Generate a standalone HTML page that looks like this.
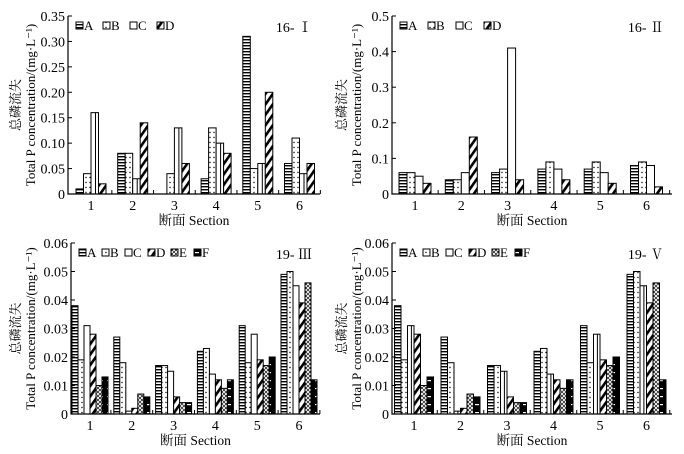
<!DOCTYPE html>
<html><head><meta charset="utf-8"><style>
body{margin:0;background:#fff}
svg{display:block;font-family:"Liberation Serif","Noto Serif CJK SC",serif}
</style></head><body>
<svg id="s" width="684" height="454" xmlns="http://www.w3.org/2000/svg">
<defs>
<pattern id="pA" width="4" height="3" patternUnits="userSpaceOnUse"><rect width="4" height="3" fill="#fff"/><rect y="0" width="4" height="1.4" fill="#000"/></pattern>
<pattern id="pB" width="4" height="5" patternUnits="userSpaceOnUse"><rect width="4" height="5" fill="#fff"/><circle cx="2" cy="2.5" r="0.7" fill="#000"/></pattern>
<pattern id="pC" width="8" height="8" patternUnits="userSpaceOnUse"><rect width="8" height="8" fill="#fff"/></pattern>
<pattern id="pD" width="6" height="6" patternUnits="userSpaceOnUse" patternTransform="rotate(35)"><rect width="6" height="6" fill="#fff"/><rect width="2.6" height="6" fill="#000"/></pattern>
<pattern id="pE" width="4" height="4" patternUnits="userSpaceOnUse"><rect width="4" height="4" fill="#222"/><path d="M0 0L4 4M4 0L0 4" stroke="#fff" stroke-width="0.9"/></pattern>
<pattern id="pF" width="8" height="8" patternUnits="userSpaceOnUse"><rect width="8" height="8" fill="#000"/><rect x="3" y="4" width="4" height="1.2" fill="#fff"/></pattern>
</defs>
</svg>
<script>
const sections=["1","2","3","4","5","6"];
const p1A=[0.01,0.08,0,0.03,0.31,0.06];
const p1B=[0.04,0.08,0.04,0.13,0.05,0.11];
const p1C=[0.16,0.03,0.13,0.10,0.06,0.04];
const p1D=[0.02,0.14,0.06,0.08,0.20,0.06];
const p2A=[0.06,0.04,0.06,0.07,0.07,0.08];
const p2B=[0.06,0.04,0.07,0.09,0.09,0.09];
const p2C=[0.05,0.06,0.41,0.07,0.06,0.08];
const p2D=[0.03,0.16,0.04,0.04,0.03,0.02];
const p3A=[0.038,0.027,0.017,0.022,0.031,0.049];
const p3B=[0.019,0.018,0.017,0.023,0.018,0.050];
const p3C=[0.031,0.001,0.015,0.014,0.028,0.045];
const p3D=[0.028,0.002,0.006,0.012,0.019,0.039];
const p3E=[0.010,0.007,0.004,0.009,0.017,0.046];
const p3F=[0.013,0.006,0.004,0.012,0.020,0.012];
const ticks1=["0","0.05","0.10","0.15","0.20","0.25","0.30","0.35"];
const ticks2=["0","0.1","0.2","0.3","0.4","0.5"];
const ticks3=["0","0.01","0.02","0.03","0.04","0.05","0.06"];
const seriesNames4=["A","B","C","D"];
const seriesNames6=["A","B","C","D","E","F"];

const NS="http://www.w3.org/2000/svg";
const svg=document.getElementById('s');
function mk(tag,attrs,parent){const e=document.createElementNS(NS,tag);for(const k in attrs)e.setAttribute(k,attrs[k]);(parent||svg).appendChild(e);return e;}

function panel(cfg){
  const g=mk('g',{});
  
  
  const {x0,x1,yTop,yBot,ticks,max,series,names,bw,c0,step,title}=cfg;
  const y=v=>yBot-(v/max)*(yBot-yTop);
  const xc=i=>c0+i*step;
  const n=series.length;
  series.forEach((arr,si)=>{
    arr.forEach((v,i)=>{
      if(v<=0)return;
      const bx=xc(i)-n*bw/2+si*bw;
      const r=mk('rect',{x:bx,y:y(v),width:bw,height:yBot-y(v),fill:'url(#p'+names[si]+')',stroke:'#000','stroke-width':1},g);
      
      
      if(names[si]==='C'&&cfg.cline){mk('line',{x1:bx+bw*0.6,x2:bx+bw*0.6,y1:y(v),y2:yBot,stroke:'#000','stroke-width':1},g);}
    });
  });
  const ax=mk('path',{d:`M${x0} ${yTop}V${yBot}H${x1}`,fill:'none',stroke:'#000','stroke-width':1.2},g);
  
  
  ticks.forEach((t,i)=>{
    const v=i*max/(ticks.length-1);
    mk('line',{x1:x0,x2:x0+4,y1:y(v),y2:y(v),stroke:'#000'},g);
    const tx=mk('text',{x:x0-3,y:y(v)+5,'text-anchor':'end','font-size':14},g);
    tx.textContent=t;
    
    
  });
  sections.forEach((s,i)=>{
    mk('line',{x1:xc(i)+step/2,x2:xc(i)+step/2,y1:yBot,y2:yBot-4,stroke:'#000'},g);
    const tx=mk('text',{x:xc(i),y:yBot+16,'text-anchor':'middle','font-size':14},g);
    tx.textContent=s;
    
    
  });
  const xl=mk('text',{x:(x0+x1)/2,y:yBot+31,'text-anchor':'middle','font-size':13.5},g);
  xl.textContent='断面 Section';
  
  
  const ym=(yTop+yBot)/2;
  const yl=mk('text',{transform:`translate(${cfg.ylx},${ym}) rotate(-90)`,'text-anchor':'middle','font-size':13},g);
  yl.textContent='总磷流失';
  
  
  const yl2=mk('text',{transform:`translate(${cfg.ylx+15},${ym}) rotate(-90)`,'text-anchor':'middle','font-size':13},g);
  yl2.textContent='Total P concentration/(mg·L⁻¹)';
  
  
  const tt=mk('text',{x:x1-8,y:yTop+16,'text-anchor':'end','font-size':14},g);
  tt.textContent=title;
  
  
  let lx=x0+8;
  names.forEach(nm=>{
    const lg=mk('g',{},g);
    
    
    mk('rect',{x:lx,y:yTop+6,width:7,height:7,fill:'url(#p'+nm+')',stroke:'#000'},lg);
    const t=mk('text',{x:lx+8,y:yTop+14,'font-size':13},lg);
    t.textContent=nm;
    lx+=cfg.legStep;
  });
}
panel({name:'panel-16-I',x0:68,x1:320,yTop:16,yBot:194,ticks:ticks1,max:0.35,series:[p1A,p1B,p1C,p1D],names:seriesNames4,bw:7.5,c0:91,step:41.7,title:'16- Ⅰ',ylx:20,legStep:27,cline:true});
panel({name:'panel-16-II',x0:392,x1:672,yTop:16,yBot:194,ticks:ticks2,max:0.5,series:[p2A,p2B,p2C,p2D],names:seriesNames4,bw:8,c0:415,step:46.3,title:'16- Ⅱ',ylx:346,legStep:28,cline:false});
panel({name:'panel-19-III',x0:71,x1:320,yTop:243,yBot:414,ticks:ticks3,max:0.06,series:[p3A,p3B,p3C,p3D,p3E,p3F],names:seriesNames6,bw:6,c0:90,step:41.8,title:'19- Ⅲ',ylx:20,legStep:23,cline:false});
panel({name:'panel-19-V',x0:392,x1:672,yTop:243,yBot:414,ticks:ticks3,max:0.06,series:[p3A,p3B,p3C,p3D,p3E,p3F],names:seriesNames6,bw:6.5,c0:414,step:46.5,title:'19- Ⅴ',ylx:346,legStep:23,cline:true});
</script>
</body></html>
